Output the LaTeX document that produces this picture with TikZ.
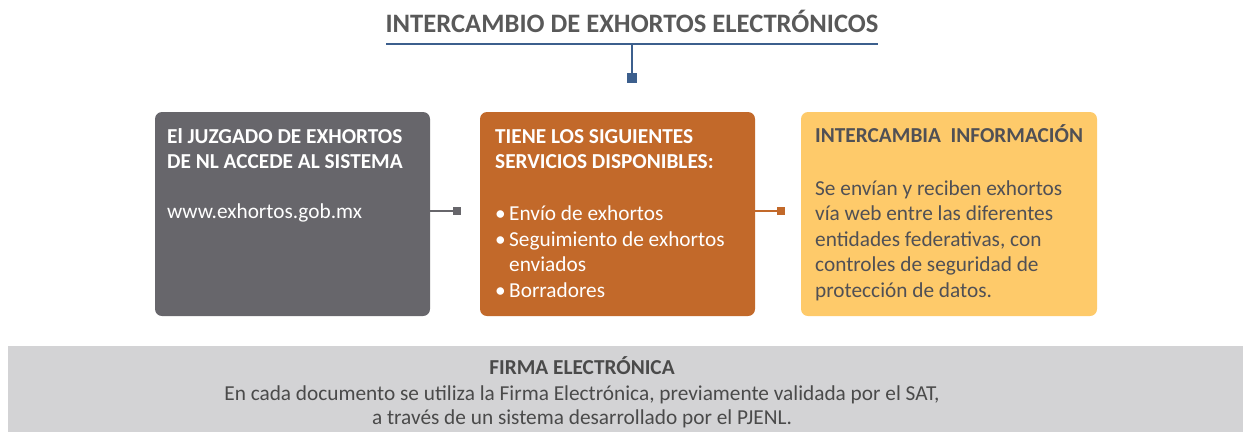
\documentclass[tikz,border=0pt]{standalone}
\usepackage{fontspec}
\setmainfont{Carlito}
\definecolor{ctitle}{HTML}{595959}
\definecolor{cblue}{HTML}{3C5F8D}
\definecolor{cgray}{HTML}{67666B}
\definecolor{corange}{HTML}{C2692A}
\definecolor{cyellow}{HTML}{FECA6A}
\definecolor{cytext}{HTML}{505055}
\definecolor{cband}{HTML}{D3D3D5}
\definecolor{cbtext}{HTML}{4A4A4A}
\begin{document}
\begin{tikzpicture}[x=1pt,y=-1pt,
  box/.style={rectangle, rounded corners=7pt, minimum width=275pt, minimum height=204pt, anchor=north west, inner sep=0pt, outer sep=0pt},
  sq/.style={rectangle, minimum size=8pt, inner sep=0pt, outer sep=0pt},
  txt/.style={anchor=base west, align=left, inner sep=0pt, font=\fontsize{21.3}{25.5}\selectfont},
  btxt/.style={anchor=base west, align=left, inner sep=0pt, font=\fontsize{21.3}{25}\selectfont\bfseries},
  ftxt/.style={anchor=base, inner sep=0pt, text=cbtext, font=\fontsize{21.3}{24}\selectfont},
  conn/.style={line width=2pt}]
\useasboundingbox (0,0) rectangle (1243,432);
% title
\node[anchor=base, inner sep=0pt, text=ctitle, font=\fontsize{26.6}{30}\selectfont\bfseries] (title) at (632,32) {INTERCAMBIO DE EXHORTOS ELECTRÓNICOS};
\coordinate (tl) at (386,44);
\coordinate (tr) at (878,44);
\coordinate (tm) at (632,44);
\draw[cblue, line width=2.2pt] (tl) -- (tr);
\node[sq, fill=cblue, minimum size=10pt] (tsq) at (632,78) {};
\draw[cblue, line width=2.2pt] (tm) -- (tsq.north);
% boxes
\node[box, fill=cgray] (b1) at (155,112) {};
\node[box, fill=corange] (b2) at (480,112) {};
\node[box, fill=cyellow, minimum width=296pt] (b3) at (801,112) {};
% connectors
\node[sq, fill=cgray] (s1) at (457,211) {};
\draw[cgray, conn] (b1.east |- s1) -- (s1);
\node[sq, fill=corange] (s2) at (781,211) {};
\draw[corange, conn] (b2.east |- s2) -- (s2);
% box texts (base = baseline of last line)
\node[btxt, text=white] (t1a) at (167,168) {El JUZGADO DE EXHORTOS\\DE NL ACCEDE AL SISTEMA};
\node[txt, text=white] (t1b) at (167,218) {www.exhortos.gob.mx};
\node[btxt, text=white] (t2a) at (495,168) {TIENE LOS SIGUIENTES\\SERVICIOS DISPONIBLES:};
\node[txt, text=white] (t2b) at (495,297) {\makebox[14pt][l]{•}Envío de exhortos\\\makebox[14pt][l]{•}Seguimiento de exhortos\\\hspace*{14pt}enviados\\\makebox[14pt][l]{•}Borradores};
\node[btxt, text=cytext] (t3a) at (815,142) {INTERCAMBIA\ \ INFORMACIÓN};
\node[txt, text=cytext] (t3b) at (815,297) {Se envían y reciben exhortos\\vía web entre las diferentes\\entidades federativas, con\\controles de seguridad de\\protección de datos.};
% band
\node[rectangle, fill=cband, anchor=north west, minimum width=1235pt, minimum height=86pt, inner sep=0pt, outer sep=0pt] (band) at (8,346) {};
\node[ftxt, font=\fontsize{21.3}{24}\selectfont\bfseries] (f1) at (582,374) {FIRMA ELECTRÓNICA};
\node[ftxt] (f2) at (582,400) {En cada documento se utiliza la Firma Electrónica, previamente validada por el SAT,};
\node[ftxt] (f3) at (582,424) {a través de un sistema desarrollado por el PJENL.};
\end{tikzpicture}
\end{document}
